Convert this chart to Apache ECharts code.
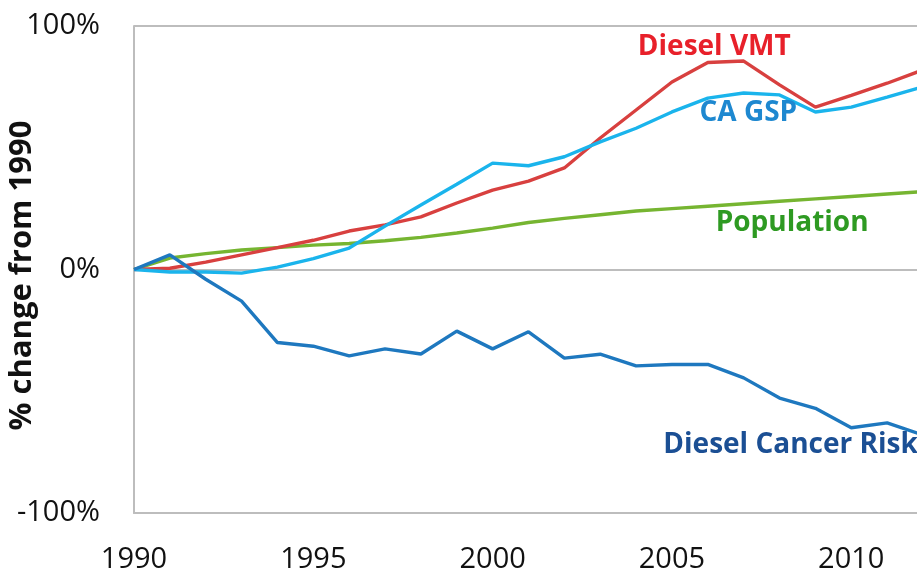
<!DOCTYPE html>
<html>
<head>
<meta charset="utf-8">
<script src="https://cdn.jsdelivr.net/npm/echarts@6/dist/echarts.min.js"></script>
<style>html,body{margin:0;padding:0;background:#fff}#c{width:917px;height:571px}</style>
</head>
<body>
<div id="c"></div>
<script>
const years = [1990,1991,1992,1993,1994,1995,1996,1997,1998,1999,2000,2001,2002,2003,2004,2005,2006,2007,2008,2009,2010,2011,2012];
const dieselVMT = [0,0.5,3,6,9,12,15.8,18.3,21.6,27.3,32.6,36.3,41.7,54,65.5,77,85,85.6,75.8,66.7,71.5,76.5,82];
const caGSP = [0,-1,-1,-1.5,1,4.5,8.8,17.8,26.5,35,43.7,42.6,46.3,52.4,58,64.7,70.4,72.5,71.7,64.7,66.7,70.8,75];
const population = [0,4.7,6.5,8,9,10,10.7,11.8,13.2,15,17,19.3,21,22.5,24,25,26,27,28,29,30,31,32];
const cancerRisk = [0,6,-4,-13,-30,-31.5,-35.5,-32.6,-34.7,-25.3,-32.6,-25.6,-36.4,-34.8,-39.6,-39,-39,-44.5,-52.8,-57,-65,-63,-68];
const yTicks = [-100, 0, 100];
const seriesNames = ['Diesel VMT','CA GSP','Population','Diesel Cancer Risk'];
const labelAnchors = [[2006.18, 91.4], [2007.13, 64.3], [2008.35, 19.1], [2004.76, -72.1]];

const lineColors = ['#d8403f','#1ab4ec','#76b531','#1e78bf'];
const textColors = ['#e8202a','#1e88d0','#2e9a22','#1b4f94'];
const values = [dieselVMT, caGSP, population, cancerRisk];
const z = [2,3,1,4];

const chart = echarts.init(document.getElementById('c'));
chart.setOption({
  animation: false,
  backgroundColor: '#fff',
  grid: {left: 134, top: 26, bottom: 58, right: -6, containLabel: false, outerBoundsMode: 'none'},
  xAxis: {
    type: 'value', min: 1990, max: 2012, interval: 5,
    axisLine: {show: true, onZero: false, lineStyle: {color: '#bdbdbd', width: 2}},
    axisTick: {show: false},
    splitLine: {show: false},
    axisLabel: {
      showMaxLabel: false, margin: 32,
      fontFamily: 'Open Sans', fontSize: 29, color: '#111',
      formatter: v => (v % 5 === 0 ? String(v) : '')
    }
  },
  yAxis: {
    type: 'value', min: -100, max: 100, interval: 100,
    name: '% change from 1990', nameLocation: 'middle', nameGap: 96, nameMoveOverlap: false,
    nameTextStyle: {fontFamily: 'Open Sans', fontWeight: 'bold', fontSize: 31, color: '#111', padding: [0, 12, 0, 0]},
    axisLine: {show: true, lineStyle: {color: '#bdbdbd', width: 2}},
    axisTick: {show: false},
    splitLine: {show: true, lineStyle: {color: '#bdbdbd', width: 2}},
    axisLabel: {
      margin: 34, fontFamily: 'Open Sans', fontSize: 29, color: '#111',
      formatter: v => (yTicks.indexOf(v) >= 0 ? v + '%' : '')
    }
  },
  series: seriesNames.map((name, i) => ({
    name: name, type: 'line', z: z[i],
    data: years.map((y, k) => [y, values[i][k]]),
    showSymbol: false, symbol: 'none',
    lineStyle: {color: lineColors[i], width: 3.4},
    clip: true,
    markPoint: {
      symbol: 'circle', symbolSize: 0,
      data: [{
        coord: labelAnchors[i],
        label: {
          show: true, formatter: name,
          position: i === 3 ? 'right' : 'inside',
          distance: 0,
          fontFamily: 'Open Sans', fontWeight: 'bold', fontSize: 28,
          color: textColors[i]
        }
      }]
    }
  }))
});
</script>
</body>
</html>
